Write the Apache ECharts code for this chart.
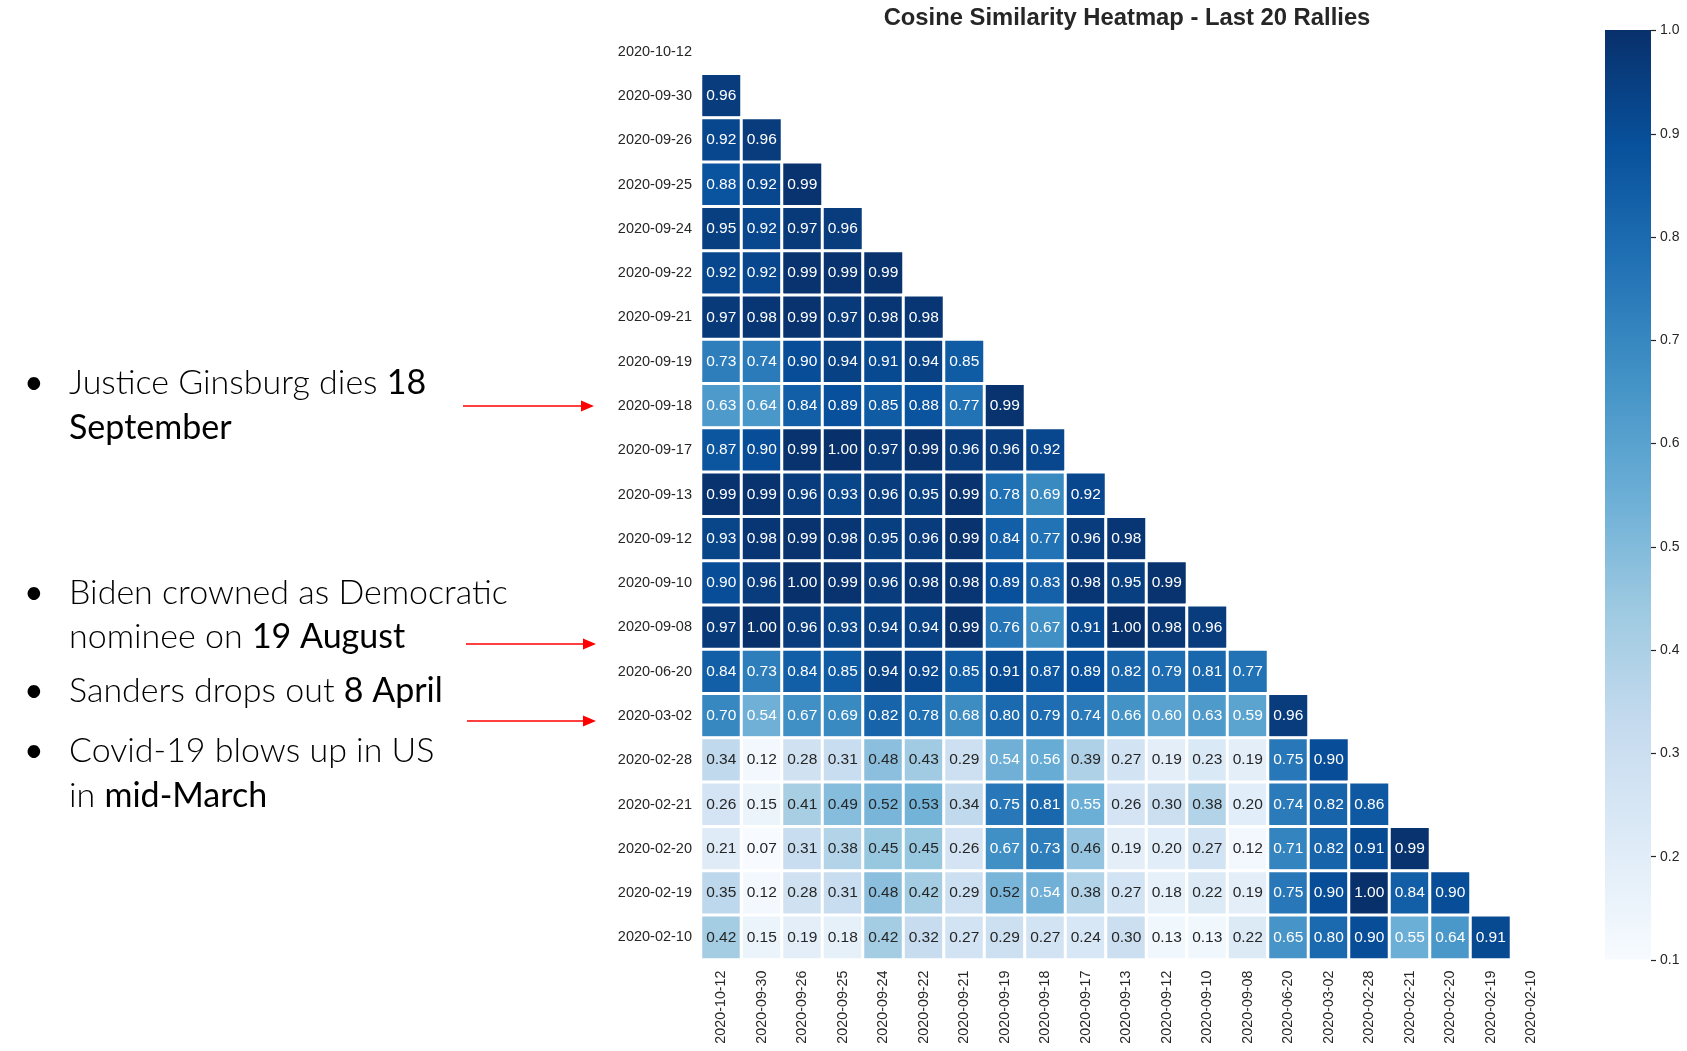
<!DOCTYPE html>
<html>
<head>
<meta charset="utf-8">
<script src="https://cdn.jsdelivr.net/npm/echarts@6/dist/echarts.min.js"></script>
<style>
html,body{margin:0;padding:0;background:#ffffff;}
#chart{width:1687px;height:1051px;}
</style>
</head>
<body>
<div id="chart"></div>
<script>
// ---- data ----
const dates = ['2020-10-12','2020-09-30','2020-09-26','2020-09-25','2020-09-24','2020-09-22','2020-09-21',
  '2020-09-19','2020-09-18','2020-09-17','2020-09-13','2020-09-12','2020-09-10','2020-09-08',
  '2020-06-20','2020-03-02','2020-02-28','2020-02-21','2020-02-20','2020-02-19','2020-02-10'];

// lower triangle, row i holds similarity with columns 0..i-1
const row00 = [];
const row01 = [0.96];
const row02 = [0.92,0.96];
const row03 = [0.88,0.92,0.99];
const row04 = [0.95,0.92,0.97,0.96];
const row05 = [0.92,0.92,0.99,0.99,0.99];
const row06 = [0.97,0.98,0.99,0.97,0.98,0.98];
const row07 = [0.73,0.74,0.90,0.94,0.91,0.94,0.85];
const row08 = [0.63,0.64,0.84,0.89,0.85,0.88,0.77,0.99];
const row09 = [0.87,0.90,0.99,1.00,0.97,0.99,0.96,0.96,0.92];
const row10 = [0.99,0.99,0.96,0.93,0.96,0.95,0.99,0.78,0.69,0.92];
const row11 = [0.93,0.98,0.99,0.98,0.95,0.96,0.99,0.84,0.77,0.96,0.98];
const row12 = [0.90,0.96,1.00,0.99,0.96,0.98,0.98,0.89,0.83,0.98,0.95,0.99];
const row13 = [0.97,1.00,0.96,0.93,0.94,0.94,0.99,0.76,0.67,0.91,1.00,0.98,0.96];
const row14 = [0.84,0.73,0.84,0.85,0.94,0.92,0.85,0.91,0.87,0.89,0.82,0.79,0.81,0.77];
const row15 = [0.70,0.54,0.67,0.69,0.82,0.78,0.68,0.80,0.79,0.74,0.66,0.60,0.63,0.59,0.96];
const row16 = [0.34,0.12,0.28,0.31,0.48,0.43,0.29,0.54,0.56,0.39,0.27,0.19,0.23,0.19,0.75,0.90];
const row17 = [0.26,0.15,0.41,0.49,0.52,0.53,0.34,0.75,0.81,0.55,0.26,0.30,0.38,0.20,0.74,0.82,0.86];
const row18 = [0.21,0.07,0.31,0.38,0.45,0.45,0.26,0.67,0.73,0.46,0.19,0.20,0.27,0.12,0.71,0.82,0.91,0.99];
const row19 = [0.35,0.12,0.28,0.31,0.48,0.42,0.29,0.52,0.54,0.38,0.27,0.18,0.22,0.19,0.75,0.90,1.00,0.84,0.90];
const row20 = [0.42,0.15,0.19,0.18,0.42,0.32,0.27,0.29,0.27,0.24,0.30,0.13,0.13,0.22,0.65,0.80,0.90,0.55,0.64,0.91];
const rowsData = [row00,row01,row02,row03,row04,row05,row06,row07,row08,row09,row10,
  row11,row12,row13,row14,row15,row16,row17,row18,row19,row20];

const colorMin = 0.1;
const colorMax = 1.0;
const colorTickStep = 0.1;

// ---- styles ----
const blues = ['#f7fbff','#deebf7','#c6dbef','#9ecae1','#6baed6','#4292c6','#2171b5','#08519c','#08306b'];
const textDark = '#262626';
const axisFont = 'Liberation Sans, Arial, sans-serif';
const annFont = 'Lato, sans-serif';

const heatData = [];
rowsData.forEach((row, i) => {
  row.forEach((v, j) => {
    heatData.push({
      value: [j, i, v],
      label: { color: v >= 0.535 ? '#ffffff' : textDark }
    });
  });
});

const chart = echarts.init(document.getElementById('chart'), null, { renderer: 'canvas' });

const annLight = { fontFamily: annFont, fontSize: 34, fontWeight: 300, fill: '#000000', color: '#000000' };
const annBold = { fontFamily: annFont, fontSize: 34, fontWeight: 400, fill: '#000000', color: '#000000' };

function annText(x, y, text) {
  return {
    type: 'text', x: x, y: y, silent: true,
    style: {
      text: text,
      rich: { l: annLight, b: annBold },
      fontFamily: annFont, fontSize: 34, fill: '#000',
      verticalAlign: 'middle', align: 'left'
    }
  };
}
function bullet(y) {
  return {
    type: 'text', x: 24, y: y, silent: true,
    style: { text: '•', fontFamily: annFont, fontSize: 34, fill: '#000', verticalAlign: 'middle', align: 'left' }
  };
}
function arrow(x1, x2, y) {
  return [
    { type: 'line', silent: true, shape: { x1: x1, y1: y, x2: x2 - 10, y2: y }, style: { stroke: '#ff0000', lineWidth: 1.5 } },
    { type: 'polygon', silent: true, shape: { points: [[x2 - 13, y - 5.5], [x2, y], [x2 - 13, y + 5.5]] }, style: { fill: '#ff0000' } }
  ];
}

// colour bar (legend for the Blues scale)
const cbLeft = 1605, cbTop = 30.5, cbWidth = 46, cbHeight = 929.5;
const cbStops = blues.map((c, k) => ({ offset: k / (blues.length - 1), color: c }));

const option = {
  backgroundColor: '#ffffff',
  animation: false,
  title: {
    text: 'Cosine Similarity Heatmap - Last 20 Rallies',
    left: 1122,
    textAlign: 'center',
    top: 1,
    textStyle: { fontFamily: axisFont, fontSize: 23.8, fontWeight: 'bold', color: textDark }
  },
  grid: [
    { left: 701, top: 29.5, width: 850.5, height: 930, containLabel: false },
    { left: cbLeft, top: cbTop, width: cbWidth, height: cbHeight, containLabel: false }
  ],
  xAxis: [
    {
      type: 'category', gridIndex: 0, data: dates, position: 'bottom',
      axisLine: { show: false }, axisTick: { show: false }, splitLine: { show: false },
      axisLabel: { rotate: 90, interval: 0, margin: 11, fontFamily: axisFont, fontSize: 14.3, color: textDark }
    },
    { type: 'category', gridIndex: 1, show: false, data: [''] }
  ],
  yAxis: [
    {
      type: 'category', gridIndex: 0, data: dates, inverse: true,
      axisLine: { show: false }, axisTick: { show: false }, splitLine: { show: false },
      axisLabel: { interval: 0, margin: 9, fontFamily: axisFont, fontSize: 14.5, color: textDark }
    },
    {
      type: 'value', gridIndex: 1, position: 'right',
      min: colorMin, max: colorMax, interval: colorTickStep,
      axisLine: { show: false, onZero: false },
      axisTick: { show: true, length: 5, inside: false, lineStyle: { color: textDark, width: 1.2 } },
      splitLine: { show: false },
      axisLabel: { margin: 9, fontFamily: axisFont, fontSize: 14, color: textDark,
        formatter: v => v.toFixed(1) }
    }
  ],
  visualMap: {
    type: 'continuous',
    seriesIndex: 0,
    min: colorMin, max: colorMax,
    inRange: { color: blues },
    show: false
  },
  series: [
    {
      type: 'heatmap',
      xAxisIndex: 0, yAxisIndex: 0,
      data: heatData,
      label: {
        show: true,
        fontFamily: axisFont, fontSize: 15.5,
        formatter: p => p.value[2].toFixed(2)
      },
      itemStyle: { borderColor: '#ffffff', borderWidth: 3 },
      emphasis: { disabled: true }
    }
  ],
  graphic: [
    {
      type: 'rect', silent: true, z: 0,
      shape: { x: cbLeft, y: cbTop - 0.5, width: cbWidth, height: cbHeight },
      style: { fill: new echarts.graphic.LinearGradient(0, 1, 0, 0, cbStops) }
    },
    bullet(383),
    annText(69, 383, '{l|Justice Ginsburg dies }{b|18}'),
    annText(69, 428, '{b|September}'),
    bullet(593),
    annText(69, 593, '{l|Biden crowned as Democratic}'),
    annText(69, 637, '{l|nominee on }{b|19 August}'),
    bullet(691),
    annText(69, 691, '{l|Sanders drops out }{b|8 April}'),
    bullet(751),
    annText(69, 751, '{l|Covid-19 blows up in US}'),
    annText(69, 796, '{l|in }{b|mid-March}'),
    ...arrow(463, 594, 406),
    ...arrow(466, 596, 644),
    ...arrow(467, 596, 721)
  ]
};

chart.setOption(option);
</script>
</body>
</html>
